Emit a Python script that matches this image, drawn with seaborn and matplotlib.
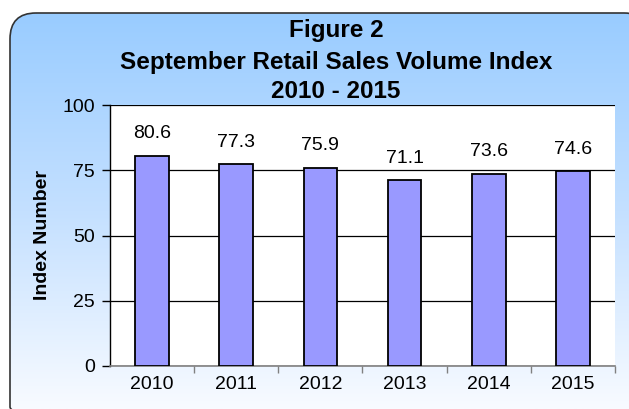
import numpy as np
import pandas as pd
import matplotlib
matplotlib.use("Agg")
import matplotlib.pyplot as plt
import seaborn as sns
from matplotlib.patches import FancyBboxPatch
from matplotlib.colors import LinearSegmentedColormap

# Data
years = ["2010", "2011", "2012", "2013", "2014", "2015"]
index_values = [80.6, 77.3, 75.9, 71.1, 73.6, 74.6]
y_ticks = [0, 25, 50, 75, 100]

title_lines = ["Figure 2", "September Retail Sales Volume Index", "2010 - 2015"]

sns.set_theme(style="white")
plt.rcParams["font.family"] = ["Liberation Sans", "DejaVu Sans"]
plt.rcParams["text.color"] = "black"
plt.rcParams["axes.labelcolor"] = "black"
plt.rcParams["xtick.color"] = "black"
plt.rcParams["ytick.color"] = "black"

W, H = 629, 409
fig = plt.figure(figsize=(W / 100, H / 100), dpi=100)
fig.patch.set_facecolor("white")

# Background: rounded box with blue-to-white vertical gradient
bg = fig.add_axes([0, 0, 1, 1], zorder=-5)
bg.set_xlim(0, W)
bg.set_ylim(H, 0)
bg.axis("off")
cmap = LinearSegmentedColormap.from_list("bgblue", ["#99ccff", "#c4e0ff", "#f8fbff"])
grad = np.linspace(0, 1, 256).reshape(-1, 1)
im = bg.imshow(grad, cmap=cmap, extent=[0, W, H, 13], aspect="auto")
bg.set_xlim(0, W)
bg.set_ylim(H, 0)
box = FancyBboxPatch((10, 13), 640, 420, boxstyle="round,pad=0,rounding_size=26",
                     facecolor="none", edgecolor="#333333", linewidth=1.2,
                     transform=bg.transData, clip_on=False)
bg.add_patch(box)
im.set_clip_path(box)

# Main plot
ax = fig.add_axes([110 / W, 1 - 366 / H, 505 / W, 261 / H])
ax.set_facecolor("white")
df = pd.DataFrame({"year": years, "value": index_values})
sns.barplot(data=df, x="year", y="value", color="#9999ff", saturation=1,
            width=0.4, edgecolor="black", linewidth=1.3, ax=ax, zorder=3)

ax.set_ylim(0, 100)
ax.set_xlim(-0.5, len(years) - 0.5)
ax.set_yticks(y_ticks)
ax.yaxis.grid(True, color="black", linewidth=0.9)
ax.set_axisbelow(True)
for s in ["top", "right"]:
    ax.spines[s].set_visible(False)
ax.spines["left"].set_color("black")
ax.spines["left"].set_linewidth(1.0)
ax.spines["bottom"].set_color("#808080")
ax.spines["bottom"].set_linewidth(1.2)

ax.tick_params(axis="y", which="major", direction="out", length=6, width=1,
               color="black", labelsize=14, pad=5, left=True)
ax.set_xticks(range(len(years)))
ax.set_xticklabels(years)
ax.tick_params(axis="x", which="major", length=0, labelsize=14, pad=7)
ax.set_xticks(np.arange(0.5, len(years), 1.0), minor=True)
ax.tick_params(axis="x", which="minor", direction="out", length=5, width=1,
               color="#808080", bottom=True)

ax.set_xlabel("")
ax.set_ylabel("Index Number", fontsize=14, fontweight="bold", labelpad=8)

# Value labels
for i, v in enumerate(index_values):
    ax.annotate(f"{v:.1f}", (i, v), xytext=(0, 16), textcoords="offset points",
                ha="center", va="center", fontsize=14, zorder=4)

# Title
ty = [30, 62, 92]
for line, y in zip(title_lines, ty):
    fig.text(336 / W, 1 - y / H, line, ha="center", va="center",
             fontsize=17.5, fontweight="bold")

fig.savefig("out.png", dpi=100)
